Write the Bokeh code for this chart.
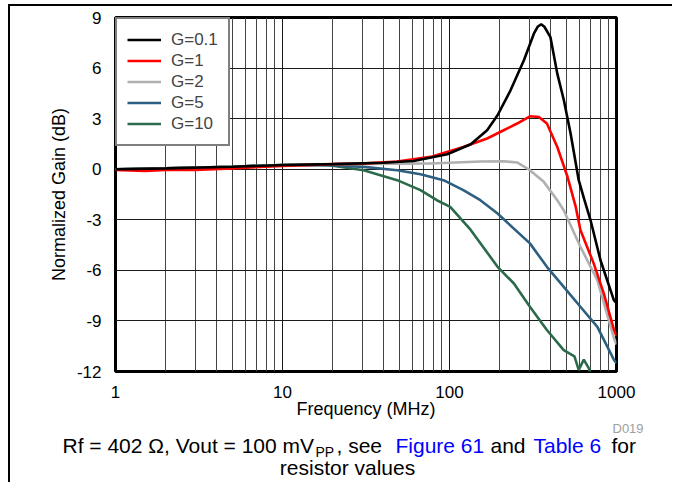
from bokeh.plotting import figure
from bokeh.models import Range1d, FixedTicker, Label, Legend, LegendItem
from bokeh.layouts import column
from bokeh.embed import file_html
from bokeh.resources import INLINE

# ---- data ----
x_ticks = [1, 10, 100, 1000]
x_tick_labels = ["1", "10", "100", "1000"]
x_minor = [2, 3, 4, 5, 6, 7, 8, 9, 20, 30, 40, 50, 60, 70, 80, 90, 200, 300, 400, 500, 600, 700, 800, 900]
y_ticks = [-12, -9, -6, -3, 0, 3, 6, 9]
y_tick_labels = ["-12", "-9", "-6", "-3", "0", "3", "6", "9"]

f_g01 = [1, 2, 5, 10, 20, 40, 61, 97, 134, 168, 194, 232, 279, 320, 337, 354, 370, 402, 442, 484, 531, 594, 643, 698, 802, 964, 1000]
g_g01 = [0.0, 0.05, 0.15, 0.25, 0.3, 0.38, 0.49, 0.89, 1.48, 2.31, 3.2, 4.68, 6.46, 8.04, 8.45, 8.6, 8.45, 7.84, 5.67, 4.09, 2.12, -0.65, -1.84, -3.0, -5.4, -7.77, -7.95]

f_g1 = [1, 1.5, 2, 3, 5, 10, 20, 30, 48.6, 77, 121, 168, 211, 254, 303, 343, 383, 442, 507, 569, 608, 731, 839, 964, 1000]
g_g1 = [-0.05, -0.1, -0.05, -0.05, 0.05, 0.2, 0.3, 0.33, 0.46, 0.73, 1.32, 1.82, 2.31, 2.71, 3.14, 3.1, 2.71, 1.32, -0.4, -2.2, -3.6, -5.6, -7.37, -9.5, -9.9]

f_g2 = [1, 2, 5, 10, 20, 50, 77, 153, 211, 254, 303, 367, 442, 483, 608, 768, 964, 1000]
g_g2 = [0.0, 0.05, 0.15, 0.25, 0.3, 0.33, 0.34, 0.46, 0.47, 0.4, -0.06, -0.75, -1.84, -2.43, -4.6, -6.58, -10.0, -10.4]

f_g5 = [1, 2, 5, 10, 19, 30.6, 48.6, 67, 92, 121, 153, 194, 303, 383, 483, 608, 768, 964, 1000]
g_g5 = [0.0, 0.05, 0.15, 0.25, 0.24, 0.14, -0.06, -0.3, -0.65, -1.24, -1.84, -2.63, -4.4, -5.79, -6.98, -8.16, -9.35, -11.3, -11.5]

f_g10 = [1, 2, 5, 10, 15, 19, 30.6, 48.6, 67, 84, 101, 134, 194, 243, 303, 383, 483, 560, 594, 637, 682, 720]
g_g10 = [0.0, 0.05, 0.15, 0.25, 0.27, 0.24, -0.06, -0.65, -1.24, -1.84, -2.23, -3.6, -5.79, -6.78, -8.16, -9.54, -10.73, -11.1, -11.9, -11.3, -11.8, -12.5]

series_names = ["G=0.1", "G=1", "G=2", "G=5", "G=10"]
series_f = [f_g01, f_g1, f_g2, f_g5, f_g10]
series_g = [g_g01, g_g1, g_g2, g_g5, g_g10]
series_colors = ["#000000", "#ff0000", "#b0b0b0", "#2d5f80", "#2b6b4b"]

caption_parts = ["Rf = 402 \u03a9, Vout = 100 mV", "PP", ", see", "Figure 61", "and", "Table 6", "for"]
caption_line2 = "resistor values"

FONT = "Liberation Sans"
W = 662
H1 = 415
H2 = 61

p = figure(width=W, height=H1, x_axis_type="log", output_backend="svg", title=None,
           toolbar_location=None, x_range=Range1d(1, 1000), y_range=Range1d(-12, 9),
           min_border_left=105, min_border_right=56, min_border_top=11, min_border_bottom=50)
p.frame_align = False
p.background_fill_color = "white"
p.border_fill_color = "white"
p.outline_line_color = "black"
p.outline_line_width = 3

p.xaxis.ticker = FixedTicker(ticks=x_ticks, minor_ticks=x_minor)
p.yaxis.ticker = FixedTicker(ticks=y_ticks)
p.xaxis.major_label_overrides = dict(zip(x_ticks, x_tick_labels))
p.yaxis.major_label_overrides = dict(zip(y_ticks, y_tick_labels))
for ax in (p.xaxis, p.yaxis):
    ax.axis_line_color = None
    ax.major_tick_line_color = None
    ax.minor_tick_line_color = None
    ax.major_label_text_font = FONT
    ax.major_label_text_font_size = "17px"
    ax.major_label_text_color = "black"
    ax.axis_label_text_font = FONT
    ax.axis_label_text_font_size = "18px"
    ax.axis_label_text_font_style = "normal"
    ax.axis_label_text_color = "black"
p.xaxis.axis_label = "Frequency (MHz)"
p.yaxis.axis_label = "Normalized Gain (dB)"
p.xaxis.major_label_standoff = 8
p.xaxis.axis_label_standoff = -2
p.yaxis.major_label_standoff = 8
p.yaxis.axis_label_standoff = 5

p.xgrid.grid_line_color = "#1a1a1a"
p.xgrid.grid_line_width = 1
p.xgrid.minor_grid_line_color = "#444444"
p.xgrid.minor_grid_line_width = 1
p.ygrid.grid_line_color = "#1a1a1a"
p.ygrid.grid_line_width = 1

renderers = {}
for name, f, g, c in reversed(list(zip(series_names, series_f, series_g, series_colors))):
    renderers[name] = p.line(f, g, line_color=c, line_width=2.6)
items = [LegendItem(label=name, renderers=[renderers[name]]) for name in series_names]

legend = Legend(items=items, location="top_left", margin=0, padding=10, spacing=0,
                label_height=21, glyph_height=21, glyph_width=34, label_standoff=10,
                label_text_font=FONT, label_text_font_size="17px",
                border_line_color="black", border_line_width=2,
                background_fill_color="white", background_fill_alpha=1.0)
p.add_layout(legend, "center")

# caption figure (pixel-for-pixel data space)
cap = figure(width=W, height=H2, output_backend="svg", toolbar_location=None, title=None,
             x_range=Range1d(0, W), y_range=Range1d(0, H2), min_border=0)
cap.frame_align = False
cap.axis.visible = False
cap.grid.visible = False
cap.outline_line_color = None
cap.background_fill_color = "white"
cap.border_fill_color = "white"

TOP2 = 421  # page y of caption figure top
LEFT = 10   # page x of canvases


def lab(text, px, py, size, color="black", align="left"):
    # empirical correction of the rendered baseline (~0.38 em lower than requested)
    corr = 0.38 * size
    cap.add_layout(Label(x=px - LEFT, y=TOP2 + H2 - py + corr, text=text,
                         text_font=FONT, text_font_size=f"{size}px", text_color=color,
                         text_align=align, text_baseline="alphabetic"))


lab("D019", 612, 433, 13, color="#a0a0a0")
lab(caption_parts[0], 62, 453, 21)
lab(caption_parts[1], 315, 457, 14)
lab(caption_parts[2], 336, 453, 21)
lab(caption_parts[3], 395, 453, 21, color="#0000ff")
lab(caption_parts[4], 490, 453, 21)
lab(caption_parts[5], 533, 453, 21, color="#0000ff")
lab(caption_parts[6], 611, 453, 21)
lab(caption_line2, 347, 475, 21, align="center")

layout = column(p, cap, spacing=0, margin=(4, 0, 0, 8),
                styles={"border-top": "2px solid black", "border-left": "2px solid black"})

open("out.html", "w").write(file_html(layout, INLINE))
